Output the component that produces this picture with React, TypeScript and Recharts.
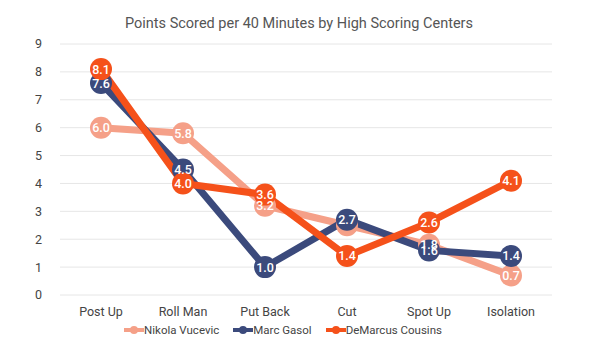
import React from "react";
import {
  LineChart,
  Line,
  XAxis,
  YAxis,
  CartesianGrid,
  Legend,
  LabelList,
} from "recharts";

// ============================================
// Data
// ============================================

const categories = ["Post Up", "Roll Man", "Put Back", "Cut", "Spot Up", "Isolation"];
const vucevic = [6.0, 5.8, 3.2, 2.5, 1.8, 0.7];
const gasol = [7.6, 4.5, 1.0, 2.7, 1.6, 1.4];
const cousins = [8.1, 4.0, 3.6, 1.4, 2.6, 4.1];
const yTicks = [0, 1, 2, 3, 4, 5, 6, 7, 8, 9];
// 元図で数値ラベルが出ていない点
const vucevicHiddenLabels = ["Cut"];

const series = [
  { key: "vucevic", name: "Nikola Vucevic", color: "#F5A088", hidden: vucevicHiddenLabels },
  { key: "gasol", name: "Marc Gasol", color: "#3B4A7C", hidden: [] as string[] },
  { key: "cousins", name: "DeMarcus Cousins", color: "#F5511A", hidden: [] as string[] },
];

const colors = {
  text: "#444",
  title: "#555",
  grid: "#E6E6E6",
};

const FONT = "Roboto, 'Liberation Sans', sans-serif";

const chartData = categories.map((c, i) => ({
  category: c,
  vucevic: vucevic[i],
  gasol: gasol[i],
  cousins: cousins[i],
}));

// 点の中の白い数値（全系列の上に描かれる）
const makeLabel = (hidden: string[]) => (props: any) => {
  const { x, y, value, index } = props;
  if (hidden.includes(categories[index])) return null;
  return (
    <text
      x={x}
      y={y + 4.5}
      textAnchor="middle"
      fill="#fff"
      fontSize={12.5}
      fontFamily={FONT}
      fontWeight={500}
    >
      {Number(value).toFixed(1)}
    </text>
  );
};

const LegendContent = () => (
  <div
    style={{
      display: "flex",
      justifyContent: "center",
      gap: 14,
      fontFamily: FONT,
      fontSize: 11.5,
      color: colors.text,
      paddingLeft: 14,
    }}
  >
    {series.map(s => (
      <div key={s.key} style={{ display: "flex", alignItems: "center" }}>
        <svg width={20} height={10}>
          <line x1={0} y1={5} x2={20} y2={5} stroke={s.color} strokeWidth={4} />
          <circle cx={10} cy={5} r={4} fill={s.color} />
        </svg>
        <span>{s.name}</span>
      </div>
    ))}
  </div>
);

export default function App() {
  return (
    <div style={{ position: "absolute", left: 0, top: 0, width: 600, height: 350, background: "#fff" }}>
      <div
        style={{
          position: "absolute",
          top: 15,
          left: 0,
          width: 598,
          textAlign: "center",
          fontFamily: FONT,
          fontSize: 14.5,
          color: colors.title,
        }}
      >
        Points Scored per 40 Minutes by High Scoring Centers
      </div>
      <LineChart
        width={600}
        height={350}
        data={chartData}
        margin={{ top: 44, right: 48, bottom: 5, left: 0 }}
      >
        <CartesianGrid vertical={false} stroke={colors.grid} />
        <XAxis
          dataKey="category"
          axisLine={false}
          tickLine={false}
          padding={{ left: 41, right: 41 }}
          tick={{ fill: colors.text, fontSize: 12.5, fontFamily: FONT }}
          tickMargin={6}
          height={28}
        />
        <YAxis
          domain={[0, 9]}
          ticks={yTicks}
          axisLine={false}
          tickLine={false}
          width={60}
          tickMargin={12}
          tick={{ fill: colors.text, fontSize: 12.5, fontFamily: FONT }}
        />
        <Legend verticalAlign="bottom" height={22} content={<LegendContent />} />
        {series.map(s => (
          <Line
            key={s.key}
            dataKey={s.key}
            name={s.name}
            stroke={s.color}
            strokeWidth={7}
            dot={{ r: 11, fill: s.color, stroke: "none" }}
            activeDot={false}
            isAnimationActive={false}
          >
            <LabelList dataKey={s.key} content={makeLabel(s.hidden)} />
          </Line>
        ))}
      </LineChart>
    </div>
  );
}
